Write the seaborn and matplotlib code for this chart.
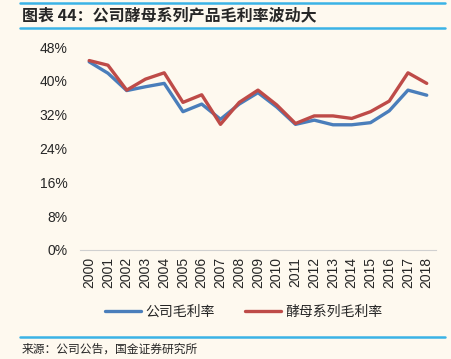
import numpy as np
import pandas as pd
import matplotlib
matplotlib.use("Agg")
import matplotlib.pyplot as plt
import seaborn as sns
from matplotlib.lines import Line2D

years = [str(y) for y in range(2000, 2019)]
company = [44.5, 41.8, 37.7, 38.6, 39.4, 32.7, 34.5, 30.9, 34.5, 37.2,
           33.8, 29.7, 30.7, 29.6, 29.6, 30.1, 32.9, 37.8, 36.6]
yeast = [44.8, 43.7, 37.8, 40.4, 41.9, 34.9, 36.7, 29.7, 34.9, 37.8,
         34.3, 29.9, 31.7, 31.7, 31.1, 32.7, 35.2, 41.9, 39.4]
series_names = ["公司毛利率", "酵母系列毛利率"]
yticks = [0, 8, 16, 24, 32, 40, 48]

bg = "#FEF9EF"
sns.set_style("white")
plt.rcParams['font.family'] = ['Liberation Sans', 'Noto Sans CJK SC', 'DejaVu Sans']

df = pd.DataFrame({
    "year": years * 2,
    "x": list(range(len(years))) * 2,
    "value": company + yeast,
    "series": [series_names[0]] * len(years) + [series_names[1]] * len(years),
})

fig = plt.figure(figsize=(4.51, 3.59), dpi=100, facecolor=bg)
ax = fig.add_axes([0.177, 0.304, 0.79, 0.565])
ax.set_facecolor(bg)

palette = {series_names[0]: "#4A7EBB", series_names[1]: "#BE4B48"}
sns.lineplot(data=df, x="x", y="value", hue="series", palette=palette,
             linewidth=2.4, ax=ax, legend=False)

ax.set_xlim(-0.5, len(years) - 0.5)
ax.set_ylim(0, 48)
ax.set_yticks(yticks)
ax.set_yticklabels([f"{t}%" for t in yticks], fontsize=10)
ax.set_xticks(range(len(years)))
ax.set_xticklabels(years, rotation=90, fontsize=10)
ax.tick_params(axis='y', length=0, pad=9)
ax.tick_params(axis='x', length=0, pad=5)
ax.set_xlabel("")
ax.set_ylabel("")
for s in ["top", "right", "left"]:
    ax.spines[s].set_visible(False)
ax.spines["bottom"].set_color("#D0D0D0")
ax.spines["bottom"].set_linewidth(0.8)

handles = [Line2D([], [], color=palette[n], linewidth=2.4) for n in series_names]
fig.legend(handles, series_names, loc="center", bbox_to_anchor=(0.54, 0.131),
           ncol=2, frameon=False, fontsize=10, handlelength=2.6,
           columnspacing=2.2, handletextpad=0.3)

# header and footer rules
line_col = "#3BB3E6"
for yy in [3, 28, 337]:
    fig.add_artist(Line2D([20 / 451, 445 / 451], [1 - yy / 359, 1 - yy / 359],
                          color=line_col, linewidth=1.8, transform=fig.transFigure))
fig.text(22 / 451, 1 - 15 / 359, "图表 44：公司酵母系列产品毛利率波动大",
         fontsize=11.5, fontweight="bold", fontstyle="italic", va="center", ha="left",
         family=['Noto Sans CJK SC', 'DejaVu Sans'])
fig.text(22 / 451, 1 - 349 / 359, "来源：公司公告，国金证券研究所",
         fontsize=8.5, va="center", ha="left",
         family=['Noto Sans CJK SC', 'DejaVu Sans'])

fig.savefig("out.png", dpi=100, facecolor=bg)
